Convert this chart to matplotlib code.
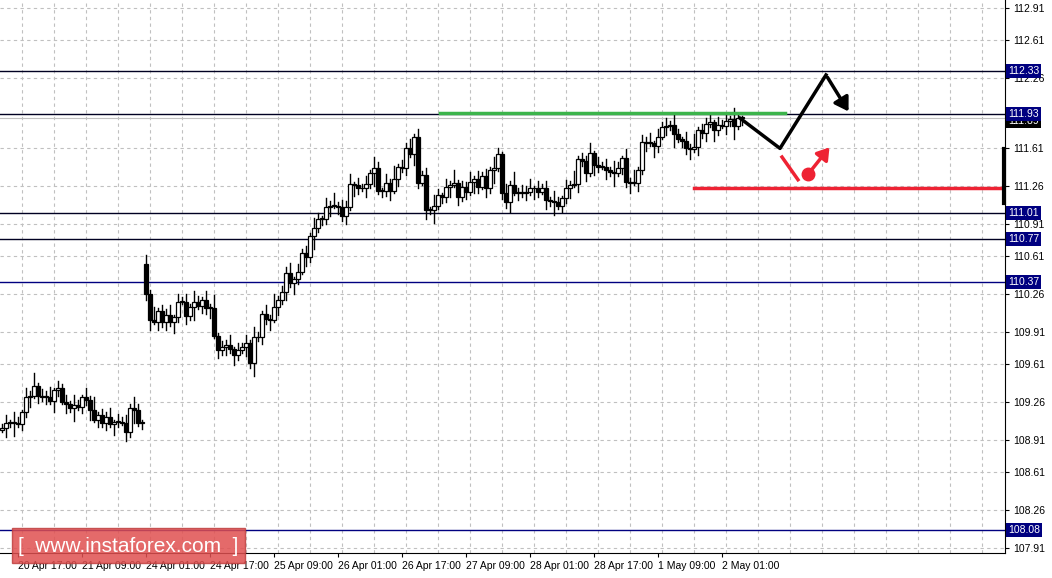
import matplotlib
matplotlib.use("Agg")
import matplotlib.pyplot as plt
from matplotlib.patches import Rectangle, FancyArrowPatch

closes_a = [109.02,109.07,109.07,109.07,109.06,109.17,109.31,109.32,109.41,109.32,109.31,109.31,
            109.27,109.37,109.39,109.26,109.24,109.21,109.23,109.22,109.31,109.28,109.19,109.10,
            109.14,109.07,109.12,109.06,109.08,109.08,109.07,108.98,109.21,109.19,109.07,109.08]
closes_b = [110.26,110.02,110.00,110.10,110.00,110.07,110.00,110.05,110.19,110.19,110.06,110.14,
            110.19,110.15,110.21,110.13,110.13,109.87,109.74,109.77,109.79,109.75,109.70,109.74,
            109.77,109.81,109.62,109.86,109.86,110.08,110.03,110.02,110.14,110.21,110.28,110.46,
            110.36,110.40,110.47,110.64,110.60,110.80]
closes_c = [110.87,110.96,110.96,111.07,111.08,111.08,111.07,110.98,111.07,111.28,111.27,111.24,
            111.24,111.28,111.38,111.43,111.22,111.22,111.29,111.22,111.33,111.44,111.43,111.61,
            111.56,111.72,111.29,111.36,111.04,111.04,111.08,111.18,111.16,111.25,111.27,111.29,
            111.16,111.25,111.21,111.30,111.33,111.25,111.35,111.24,111.41,111.43,111.56,111.20,
            111.11,111.27,111.20,111.21,111.20,111.21,111.24,111.24,111.21,111.24,111.13,111.12,
            111.11,111.08,111.15,111.24,111.27,111.28,111.51,111.49,111.38,111.57,111.46,111.44,
            111.44,111.41,111.39,111.38,111.43,111.52,111.30,111.29,111.29,111.41]
closes_d = [111.67,111.66,111.66,111.63,111.72,111.81,111.82,111.83,111.74,111.70,111.68,111.61,
            111.60,111.62,111.78,111.75,111.84,111.85,111.78,111.83,111.82,111.86,111.88,111.82,
            111.89,111.89]
closes = closes_a + closes_b + closes_c + closes_d
first_open = 109.00
gap_open = 110.54
wick_pattern = [0.04,0.07,0.03,0.10,0.05,0.02,0.08,0.04,0.12,0.03,0.06,0.05,0.09,0.02,0.07]

levels = [112.33, 111.93, 111.01, 110.77, 110.37, 108.08]
yticks = [112.91,112.61,112.26,111.61,111.26,110.91,110.61,110.26,109.91,109.61,109.26,108.91,108.61,108.26,107.91]
xlabels = ["20 Apr 01:00","20 Apr 17:00","21 Apr 09:00","24 Apr 01:00","24 Apr 17:00","25 Apr 09:00",
           "26 Apr 01:00","26 Apr 17:00","27 Apr 09:00","28 Apr 01:00","28 Apr 17:00","1 May 09:00","2 May 01:00"]
last_price = 111.89

plt.rcParams['font.family'] = ['Liberation Sans', 'DejaVu Sans']
fig = plt.figure(figsize=(10.52, 5.78), dpi=100)
ax = fig.add_axes([0, 25/578, 1005/1052, 553/578])

# grid
for k in range(-1, 33):
    ax.axvline(5 + 8*k, color="#c0c0c0", ls=(0, (3, 3)), lw=0.8, zorder=0)
for t in yticks:
    ax.axhline(t, color="#c0c0c0", ls=(0, (3, 3)), lw=0.8, zorder=0)
for lv in levels:
    ax.axhline(lv, color="#000080" if lv in (110.37, 108.08) else "#000022", lw=1.0, zorder=1)
ax.axhline(last_price, color="#c0c0c0", lw=0.8, zorder=1)

# candles
prev = first_open
for i, c in enumerate(closes):
    o = gap_open if i == len(closes_a) else prev
    hi = max(o, c) + wick_pattern[i % len(wick_pattern)]
    lo = min(o, c) - wick_pattern[(i + 5) % len(wick_pattern)]
    ax.plot([i, i], [lo, hi], color="black", lw=1.0, zorder=3)
    bot, h = min(o, c), max(abs(c - o), 0.008)
    ax.add_patch(Rectangle((i - 0.6, bot), 1.2, h, facecolor="white" if c >= o else "black",
                           edgecolor="black", lw=0.9, zorder=4))
    prev = c

# overlays
ax.plot([109.5, 195.75], [111.94, 111.94], color="#3cb44b", lw=2.5, zorder=5)
ax.plot([173, 250], [111.24, 111.24], color="#ee2233", lw=2.5, zorder=5)
ax.plot([184.5, 194.5, 206], [111.89, 111.61, 112.29], color="black", lw=2.5, zorder=6)
ax.add_patch(FancyArrowPatch((206, 112.29), (212, 111.93), arrowstyle="-|>,head_length=8,head_width=5",
                             color="black", lw=2.5, zorder=6))
ax.plot([195, 199], [111.53, 111.32], color="#ee2233", lw=2.5, zorder=6)
ax.plot([201.5], [111.37], "o", color="#ee2233", ms=9, zorder=6)
ax.add_patch(FancyArrowPatch((201.5, 111.37), (207.3, 111.64), arrowstyle="-|>,head_length=7,head_width=4.5",
                             color="#ee2233", lw=2.5, zorder=6))

# axes styling
for s in ["top", "left"]:
    ax.spines[s].set_visible(False)
ax.yaxis.tick_right()
ax.set_yticks(yticks)
ax.set_yticklabels([f"{t:.2f}" for t in yticks], fontsize=7.5)
ax.tick_params(axis="y", length=3, pad=3)
xt = [4 - 16 + 16*k for k in range(len(xlabels))]
ax.set_xticks(xt)
ax.set_xticklabels(xlabels, fontsize=7.5, ha="left")
ax.tick_params(axis="x", length=3, pad=3)
ax.set_xlim(-0.5, 250.75)
ax.set_ylim(107.864, 112.984)

# right-axis boxed labels
ax.text(1.003, last_price - 0.03, f"{last_price:.2f}", transform=ax.get_yaxis_transform(), fontsize=7.5, color="white",
        va="center", ha="left", bbox=dict(boxstyle="square,pad=0.2", fc="black", ec="none"), zorder=9)
for lv in levels:
    ax.text(1.003, lv, f"{lv:.2f}", transform=ax.get_yaxis_transform(), fontsize=7.5, color="white",
            va="center", ha="left", bbox=dict(boxstyle="square,pad=0.2", fc="#000080", ec="none"), zorder=10)
ax.plot([250.5, 250.5], [111.1, 111.6], color="black", lw=3, clip_on=False, zorder=8)

# watermark
fig.patches.append(Rectangle((12/1052, 1 - 563/578), 233/1052, 35/578, transform=fig.transFigure,
                             facecolor="#e05050", alpha=0.85, edgecolor="#c04040", zorder=20))
fig.text(128/1052, 1 - 546/578, "[  www.instaforex.com  ]", color="white", fontsize=15,
         ha="center", va="center", zorder=21)

fig.savefig("out.png", dpi=100)
